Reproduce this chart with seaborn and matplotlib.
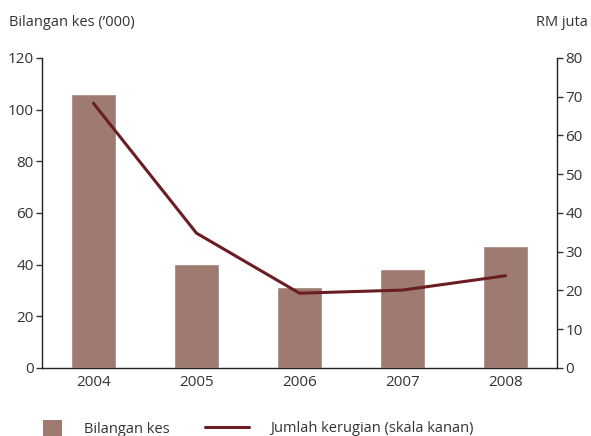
import pandas as pd
import matplotlib
matplotlib.use("Agg")
import matplotlib.pyplot as plt
import seaborn as sns
from matplotlib.patches import Patch
from matplotlib.lines import Line2D

years = ["2004", "2005", "2006", "2007", "2008"]
cases = [106, 40.3, 31.3, 38.3, 47.1]     # Bilangan kes ('000)
losses = [68.3, 34.8, 19.3, 20.1, 23.8]   # RM juta

bar_color = "#9e7a71"
line_color = "#6b1d24"
text_color = "#333333"

sns.set_style("white")
plt.rcParams["font.family"] = ["Open Sans", "DejaVu Sans"]
plt.rcParams["font.size"] = 11
plt.rcParams["text.color"] = text_color
plt.rcParams["xtick.color"] = text_color
plt.rcParams["ytick.color"] = text_color

df = pd.DataFrame({"year": years, "cases": cases, "losses": losses})

fig = plt.figure(figsize=(5.91, 4.36), dpi=100)
ax1 = fig.add_axes([0.071, 0.156, 0.8715, 0.711])
sns.barplot(data=df, x="year", y="cases", color=bar_color, width=0.43,
            saturation=1, ax=ax1)
ax1.set_xlim(-0.5, 4.5)
ax1.set_ylim(0, 120)
ax1.set_yticks(range(0, 121, 20))
ax1.set_xlabel("")
ax1.set_ylabel("")
ax1.tick_params(axis="y", direction="out", length=4, width=1, left=True, pad=2,
                labelsize=11)
ax1.tick_params(axis="x", length=0, pad=5, labelsize=11)
for s in ["top", "right"]:
    ax1.spines[s].set_visible(False)
for s in ["left", "bottom"]:
    ax1.spines[s].set_color("#222222")
    ax1.spines[s].set_linewidth(1)

ax2 = ax1.twinx()
ax2.plot(range(len(years)), losses, color=line_color, lw=2.2)
ax2.set_ylim(0, 80)
ax2.set_yticks(range(0, 81, 10))
ax2.tick_params(axis="y", direction="out", length=4, width=1, right=True, pad=2,
                labelsize=11)
for s in ["top", "left", "bottom"]:
    ax2.spines[s].set_visible(False)
ax2.spines["right"].set_color("#222222")
ax2.spines["right"].set_linewidth(1)

fig.text(0.015, 1 - 22 / 436, "Bilangan kes (\u2019000)", fontsize=10.5,
         ha="left", va="center")
fig.text(0.995, 1 - 22 / 436, "RM juta", fontsize=10.5, ha="right", va="center")

# two legends so the square patch and the long line can have different sizes
fig.legend([Patch(facecolor=bar_color, edgecolor="none")], ["Bilangan kes"],
           loc="center left", bbox_to_anchor=(43 / 591, 1 - 428.5 / 436),
           frameon=False, fontsize=10.5, handlelength=1.3, handleheight=1.4,
           handletextpad=1.5, borderpad=0, borderaxespad=0)
fig.legend([Line2D([0], [0], color=line_color, lw=2.2)],
           ["Jumlah kerugian (skala kanan)"],
           loc="center left", bbox_to_anchor=(205 / 591, 1 - 428.5 / 436),
           frameon=False, fontsize=10.5, handlelength=3.0,
           handletextpad=1.5, borderpad=0, borderaxespad=0)

fig.savefig("out.png", dpi=100)
